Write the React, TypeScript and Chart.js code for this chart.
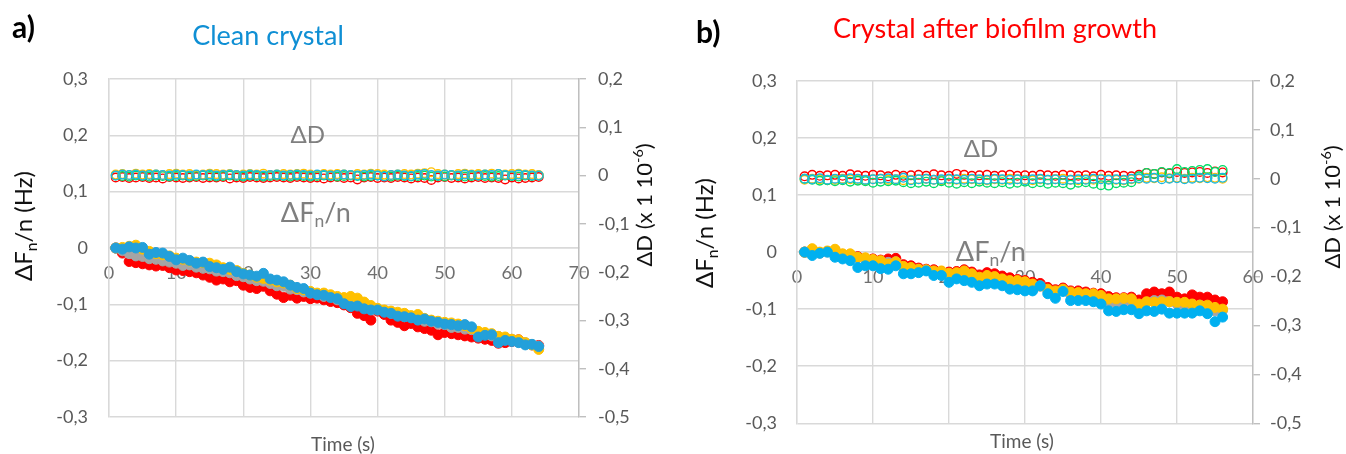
import React, { useEffect, useRef } from "react";
import { Chart, registerables } from "chart.js";

Chart.register(...registerables);

const FONT = "Lato, 'Noto Sans', 'DejaVu Sans', sans-serif";

// ---------- Data (values in units of 0.001) ----------
// Panel a) Clean crystal
const timeA = [
  1, 2, 3, 4, 5, 6, 7, 8, 9, 10, 11, 12, 13, 14, 15, 16, 17, 18, 19, 20, 21, 22, 23, 24, 25, 26, 27, 28, 29, 30, 31, 32,
  33, 34, 35, 36, 37, 38, 39, 40, 41, 42, 43, 44, 45, 46, 47, 48, 49, 50, 51, 52, 53, 54, 55, 56, 57, 58, 59, 60, 61, 62, 63, 64,
];
const freqRedA = [
  0, -9, -24, -26, -28, -30, -32, -31, -35, -39, -40, -42, -44, -48, -52, -57, -55, -60, -58, -66, -70, -72, -68, -76, -82, -88, -84, -89, -86, -90, -89, -92,
  -95, -97, -101, -106, -116, -120, -128, -112, -118, -128, -132, -138, -134, -140, -143, -146, -154, -150, -152, -154, -156, -158, -160, -162, -164, -169, -168, -166, -163, -170, -172, -173,
];
const freqGrayA = [
  0, -5, -10, -14, -15, -19, -20, -23, -25, -27, -31, -30, -34, -36, -37, -41, -42, -44, -49, -51, -55, -58, -59, -63, -67, -68, -73, -74, -78, -80, -82, -86,
  -87, -92, -94, -99, -100, -105, -106, -110, -111, -116, -117, -122, -123, -127, -130, -131, -135, -136, -141, -141, -144, -145, -151, -152, -156, -157, -162, -162, -167, -168, -172, -174,
];
const freqYellowA = [
  0, 1, 3, 5, -2, -6, -10, -12, -14, -18, -20, -23, -25, -26, -27, -30, -35, -38, -40, -45, -48, -52, -54, -57, -60, -62, -66, -72, -74, -77, -80, -80,
  -83, -86, -88, -86, -89, -96, -102, -107, -110, -112, -114, -116, -120, -118, -125, -128, -130, -132, -133, -135, -138, -143, -148, -150, -152, -157, -158, -162, -163, -168, -172, -180,
];
const freqBlueA = [
  0, -2, 2, 0, 1, -11, -8, -9, -15, -21, -18, -22, -27, -25, -33, -35, -38, -34, -42, -46, -48, -50, -45, -55, -57, -60, -66, -70, -72, -80, -83, -84,
  -88, -90, -99, -104, -103, -108, -110, -110, -114, -116, -121, -122, -124, -128, -126, -130, -132, -135, -136, -138, -136, -140, -158, -155, -154, -168, -164, -166, -168, -172, -171, -175,
];
const dissRedA = [
  -4, -3, -5, -4, -3, -5, -4, -6, -3, -4, -5, -4, -3, -5, -4, -4, -3, -6, -4, -5, -3, -4, -5, -4, -3, -4, -5, -3, -4, -5, -4, -6,
  -4, -3, -5, -4, -8, -4, -3, -5, -4, -5, -3, -4, -6, -4, -5, -9, -4, -3, -5, -4, -6, -4, -3, -5, -4, -5, -8, -4, -6, -5, -4, -3,
];
const dissYellowA = [
  2, 3, 1, 4, 2, 3, 2, 1, 3, 4, 2, 3, 1, 2, 4, 3, 2, 3, 1, 2, 3, 2, 4, 1, 2, 3, 2, 3, 4, 2, 1, 3,
  2, 3, 2, 1, 3, 2, 4, 3, 2, 1, 2, 3, 2, 4, 5, 7, 3, 2, 1, 3, 4, 2, 3, 2, 4, 3, 2, 3, 4, 2, 3, 1,
];
const dissGreenA = [
  0, -1, -2, 0, -1, -2, 0, -1, -2, -1, 0, -2, -1, 0, -1, -2, -1, 0, -1, -2, 0, -1, -2, -1, 0, -1, -2, 0, -1, -2, -1, 0,
  -1, -2, -1, 0, -1, -2, -1, 0, -1, -2, 0, -1, -2, -1, 0, -2, -1, -2, 0, -1, -2, -1, 0, -1, -2, -1, 0, -1, -2, 0, -1, 0,
];
const dissCyanA = [
  0, 2, 1, 2, 0, 1, 2, 1, 0, 2, 1, 0, 2, 1, 2, 0, 1, 2, 1, 0, 2, 1, 0, 1, 2, 0, 1, 2, 1, 0, 2, 1,
  0, 1, 2, 1, 0, 1, 2, 0, -2, 1, 2, 0, -1, 2, 3, 1, 0, 2, 1, 0, 2, 1, 0, 2, 1, 3, 1, 0, 2, 1, 0, 0,
];

// Panel b) Crystal after biofilm growth
const timeB = [
  1, 2, 3, 4, 5, 6, 7, 8, 9, 10, 11, 12, 13, 14, 15, 16, 17, 18, 19, 20, 21, 22, 23, 24, 25, 26, 27, 28,
  29, 30, 31, 32, 33, 34, 35, 36, 37, 38, 39, 40, 41, 42, 43, 44, 45, 46, 47, 48, 49, 50, 51, 52, 53, 54, 55, 56,
];
const freqRedB = [
  0, 4, -1, 1, 3, -4, -5, -8, -11, -12, -14, -12, -11, -22, -24, -28, -30, -31, -34, -35, -34, -31, -35, -40, -36, -38, -42, -45,
  -48, -50, -53, -55, -62, -66, -63, -68, -68, -70, -72, -73, -78, -80, -80, -79, -84, -73, -70, -73, -70, -79, -82, -75, -79, -79, -84, -87,
];
const freqGrayB = [
  0, 2, -2, 0, 2, -5, -6, -10, -13, -15, -17, -18, -17, -27, -29, -31, -32, -35, -36, -42, -40, -38, -42, -48, -46, -48, -51, -55,
  -56, -58, -60, -60, -68, -72, -66, -75, -76, -78, -79, -82, -90, -90, -89, -88, -95, -88, -85, -84, -87, -91, -94, -92, -93, -95, -103, -102,
];
const freqYellowB = [
  0, 6, 0, 2, 5, -3, -3, -9, -10, -13, -15, -21, -17, -25, -27, -30, -31, -33, -33, -37, -36, -33, -38, -44, -41, -43, -47, -50,
  -50, -52, -56, -59, -65, -68, -65, -70, -71, -73, -73, -76, -82, -82, -81, -82, -91, -87, -88, -87, -87, -88, -88, -91, -93, -93, -97, -100,
];
const freqBlueB = [
  0, -6, -2, 0, -9, -12, -15, -27, -24, -24, -29, -30, -24, -38, -38, -36, -33, -41, -41, -53, -47, -50, -53, -59, -56, -56, -59, -65,
  -66, -68, -68, -59, -73, -81, -69, -85, -85, -85, -87, -91, -103, -104, -101, -101, -108, -103, -104, -100, -107, -107, -107, -107, -103, -108, -122, -114,
];
const dissRedB = [
  5, 8, 6, 7, 8, 6, 9, 7, 6, 8, 7, 5, 8, 6, 7, 8, 6, 9, 7, 6, 10, 8, 6, 7, 8, 6, 7, 8,
  6, 7, 6, 8, 7, 6, 8, 7, 6, 7, 5, 8, 6, 7, 6, 5, 8, 12, 10, 13, 11, 14, 12, 13, 14, 12, 15, 13,
];
const dissYellowB = [
  -2, 0, -1, -3, -2, 0, -1, -2, -3, -1, 0, -2, -1, -3, -2, -1, 0, -2, -3, -1, -2, 0, -1, -2, -3, -1, -2, 0,
  -1, -2, -3, -1, -2, -1, 0, -2, -3, -1, -2, 0, -1, -2, -3, -1, 0, 2, 1, 3, 1, 2, 0, 2, 1, 3, 2, 0,
];
const dissGreenB = [
  0, -2, -4, -3, -5, -3, -6, -4, -5, -8, -6, -5, -4, -7, -9, -8, -6, -9, -5, -8, -10, -7, -9, -6, -8, -9, -7, -10,
  -8, -6, -9, -7, -10, -8, -9, -12, -8, -7, -10, -13, -14, -9, -8, -7, 5, 12, 10, 14, 12, 20, 14, 16, 18, 20, 14, 18,
];
const dissCyanB = [
  0, -1, 1, -2, 0, -1, 1, 0, -2, -1, 0, 1, -1, 2, -3, -1, 0, -2, -1, 0, -1, -2, 0, -1, -2, 0, -1, -2,
  -1, -3, -1, 0, -2, -1, -3, -2, -1, -2, 0, -1, -2, -1, -2, 0, 1, 0, 2, -1, 0, 1, -1, 0, 2, 1, 0, 2,
];

// Axis tick ranges
const freqAxis = { min: -0.3, max: 0.3, step: 0.1 };
const dissAxis = { min: -0.5, max: 0.2, step: 0.1 };
const timeAxisA = { min: 0, max: 70, step: 10 };
const timeAxisB = { min: 0, max: 60, step: 10 };

// Colours
const RED = "#ff0000";
const GRAY = "#a5a5a5";
const YELLOW = "#ffc000";
const BLUE_A = "#23a0da";
const BLUE_B = "#00b0f0";
const GREEN = "#00dd66";
const CYAN = "#1ab8e0";

type Seg = { t: string; s?: "sub" | "sup" };

function drawRich(
  ctx: CanvasRenderingContext2D,
  segs: Seg[],
  x: number,
  y: number,
  size: number,
  color: string,
  weight = "normal",
  rotate = false,
  align: "center" | "left" = "center"
) {
  ctx.save();
  ctx.translate(x, y);
  if (rotate) ctx.rotate(-Math.PI / 2);
  const small = size * 0.65;
  const fontFor = (s?: string) => `${weight} ${s ? small : size}px ${FONT}`;
  let total = 0;
  for (const s of segs) {
    ctx.font = fontFor(s.s);
    total += ctx.measureText(s.t).width;
  }
  let cx = align === "center" ? -total / 2 : 0;
  ctx.textBaseline = "middle";
  ctx.textAlign = "left";
  ctx.fillStyle = color;
  for (const s of segs) {
    ctx.font = fontFor(s.s);
    const dy = s.s === "sub" ? size * 0.32 : s.s === "sup" ? -size * 0.32 : 0;
    ctx.fillText(s.t, cx, dy);
    cx += ctx.measureText(s.t).width;
  }
  ctx.restore();
}

const fmt = (v: number) => {
  const r = Math.round(v * 10) / 10;
  return r === 0 ? "0" : String(r).replace(".", ",");
};

type PanelCfg = {
  letter: string;
  letterPos: [number, number];
  title: string;
  titleColor: string;
  titlePos: [number, number];
  area: { left: number; right: number; top: number; bottom: number };
  time: number[];
  timeAxis: { min: number; max: number; step: number };
  freq: { color: string; data: number[] }[];
  diss: { color: string; data: number[] }[];
  leftTitlePos: [number, number];
  rightTitlePos: [number, number];
  timeLabelPos: [number, number];
  annD: [number, number];
  annF: [number, number];
  leftTickPad: number;
  rightTickPad: number;
};

const W = 673;
const H = 454;

// series listed bottom-most first, top-most last
const panels: PanelCfg[] = [
  {
    letter: "a)",
    letterPos: [12, 28],
    title: "Clean crystal",
    titleColor: "#0f8fd4",
    titlePos: [268, 36],
    area: { left: 109, right: 579, top: 79, bottom: 417 },
    time: timeA,
    timeAxis: timeAxisA,
    freq: [
      { color: RED, data: freqRedA },
      { color: GRAY, data: freqGrayA },
      { color: YELLOW, data: freqYellowA },
      { color: BLUE_A, data: freqBlueA },
    ],
    diss: [
      { color: RED, data: dissRedA },
      { color: GREEN, data: dissGreenA },
      { color: YELLOW, data: dissYellowA },
      { color: CYAN, data: dissCyanA },
    ],
    leftTitlePos: [24, 226],
    rightTitlePos: [645, 205],
    timeLabelPos: [343, 445],
    annD: [29.6, 0.2],
    annF: [30.8, 0.062],
    leftTickPad: 21,
    rightTickPad: 12,
  },
  {
    letter: "b)",
    letterPos: [23, 33],
    title: "Crystal after biofilm growth",
    titleColor: "#ff0000",
    titlePos: [322, 29],
    area: { left: 124, right: 580, top: 81, bottom: 424 },
    time: timeB,
    timeAxis: timeAxisB,
    freq: [
      { color: RED, data: freqRedB },
      { color: GRAY, data: freqGrayB },
      { color: YELLOW, data: freqYellowB },
      { color: BLUE_B, data: freqBlueB },
    ],
    diss: [
      { color: RED, data: dissRedB },
      { color: YELLOW, data: dissYellowB },
      { color: GREEN, data: dissGreenB },
      { color: CYAN, data: dissCyanB },
    ],
    leftTitlePos: [32, 233],
    rightTitlePos: [660, 207],
    timeLabelPos: [349, 442],
    annD: [24.2, 0.18],
    annF: [25.5, 0.0],
    leftTickPad: 20,
    rightTickPad: 10,
  },
];

function Panel({ cfg }: { cfg: PanelCfg }) {
  const ref = useRef<HTMLCanvasElement>(null);
  useEffect(() => {
    if (!ref.current) return;
    const a = cfg.area;
    const textPlugin = {
      id: "textLayer",
      afterDraw(chart: any) {
        const ctx: CanvasRenderingContext2D = chart.ctx;
        const xs = chart.scales.x;
        const ys = chart.scales.y;
        drawRich(ctx, [{ t: cfg.letter }], cfg.letterPos[0], cfg.letterPos[1], 30, "#000000", "bold", false, "left");
        drawRich(ctx, [{ t: cfg.title }], cfg.titlePos[0], cfg.titlePos[1], 27, cfg.titleColor);
        drawRich(ctx, [{ t: "Time (s)" }], cfg.timeLabelPos[0], cfg.timeLabelPos[1], 19, "#595959");
        drawRich(
          ctx,
          [{ t: "ΔF" }, { t: "n", s: "sub" }, { t: "/n (Hz)" }],
          cfg.leftTitlePos[0],
          cfg.leftTitlePos[1],
          24,
          "#111111",
          "normal",
          true
        );
        drawRich(
          ctx,
          [{ t: "ΔD (x 1 10" }, { t: "-6", s: "sup" }, { t: ")" }],
          cfg.rightTitlePos[0],
          cfg.rightTitlePos[1],
          22,
          "#111111",
          "normal",
          true
        );
        drawRich(
          ctx,
          [{ t: "ΔD" }],
          xs.getPixelForValue(cfg.annD[0]),
          ys.getPixelForValue(cfg.annD[1]),
          24,
          "#7f7f7f"
        );
        drawRich(
          ctx,
          [{ t: "ΔF" }, { t: "n", s: "sub" }, { t: "/n" }],
          xs.getPixelForValue(cfg.annF[0]),
          ys.getPixelForValue(cfg.annF[1]),
          27,
          "#7f7f7f"
        );
      },
    };

    const nF = cfg.freq.length;
    const freqSets = cfg.freq.map((s, k) => ({
      data: cfg.time.map((t, i) => ({ x: t, y: s.data[i] / 1000 })),
      yAxisID: "y",
      backgroundColor: s.color,
      borderColor: s.color,
      pointRadius: 5,
      pointBorderWidth: 1,
      showLine: false,
      order: nF - k,
    }));
    const nD = cfg.diss.length;
    const dissSets = cfg.diss.map((s, k) => ({
      data: cfg.time.map((t, i) => ({ x: t, y: s.data[i] / 1000 })),
      yAxisID: "y2",
      backgroundColor: "rgba(0,0,0,0)",
      borderColor: s.color,
      pointRadius: 4.3,
      pointBorderWidth: 1.4,
      showLine: false,
      order: 10 + nD - k,
    }));

    const tickFont = { family: FONT, size: 18 };
    const chart = new Chart(ref.current, {
      type: "scatter",
      data: { datasets: [...dissSets, ...freqSets] as any },
      plugins: [textPlugin],
      options: {
        animation: false,
        responsive: false,
        events: [],
        layout: { padding: { top: a.top, bottom: H - a.bottom, left: 0, right: 0 } },
        plugins: { legend: { display: false }, tooltip: { enabled: false }, title: { display: false } },
        scales: {
          x: {
            type: "linear",
            position: { y: 0 } as any,
            min: cfg.timeAxis.min,
            max: cfg.timeAxis.max,
            ticks: {
              stepSize: cfg.timeAxis.step,
              color: "#6f6f6f",
              font: tickFont,
              padding: 14,
              maxRotation: 0,
            },
            grid: { color: "#d9d9d9", lineWidth: 1.4, drawTicks: false },
            border: { color: "#d9d9d9", width: 1.4 },
          },
          y: {
            type: "linear",
            position: "left",
            min: freqAxis.min,
            max: freqAxis.max,
            ticks: {
              stepSize: freqAxis.step,
              color: "#595959",
              font: tickFont,
              padding: cfg.leftTickPad,
              callback: (v: any) => fmt(Number(v)),
            },
            grid: { color: "#d9d9d9", lineWidth: 1.4, drawTicks: false },
            border: { color: "#d9d9d9", width: 1.4 },
            afterFit: (s: any) => {
              s.width = a.left;
            },
          },
          y2: {
            type: "linear",
            position: "right",
            min: dissAxis.min,
            max: dissAxis.max,
            ticks: {
              stepSize: dissAxis.step,
              color: "#595959",
              font: tickFont,
              padding: cfg.rightTickPad,
              callback: (v: any) => fmt(Number(v)),
            },
            grid: { drawOnChartArea: false, drawTicks: true, tickLength: 7, color: "#bfbfbf", lineWidth: 1.4 },
            border: { color: "#bfbfbf", width: 1.4 },
            afterFit: (s: any) => {
              s.width = W - a.right;
            },
          },
        },
      } as any,
    });
    return () => chart.destroy();
  }, [cfg]);
  return <canvas ref={ref} width={W} height={H} style={{ display: "block", width: W, height: H }} />;
}

export default function App() {
  return (
    <div
      style={{
        position: "fixed",
        left: 0,
        top: 0,
        width: 1346,
        height: 454,
        background: "#ffffff",
        display: "flex",
        flexDirection: "row",
      }}
    >
      {panels.map((p, i) => (
        <Panel key={i} cfg={p} />
      ))}
    </div>
  );
}
